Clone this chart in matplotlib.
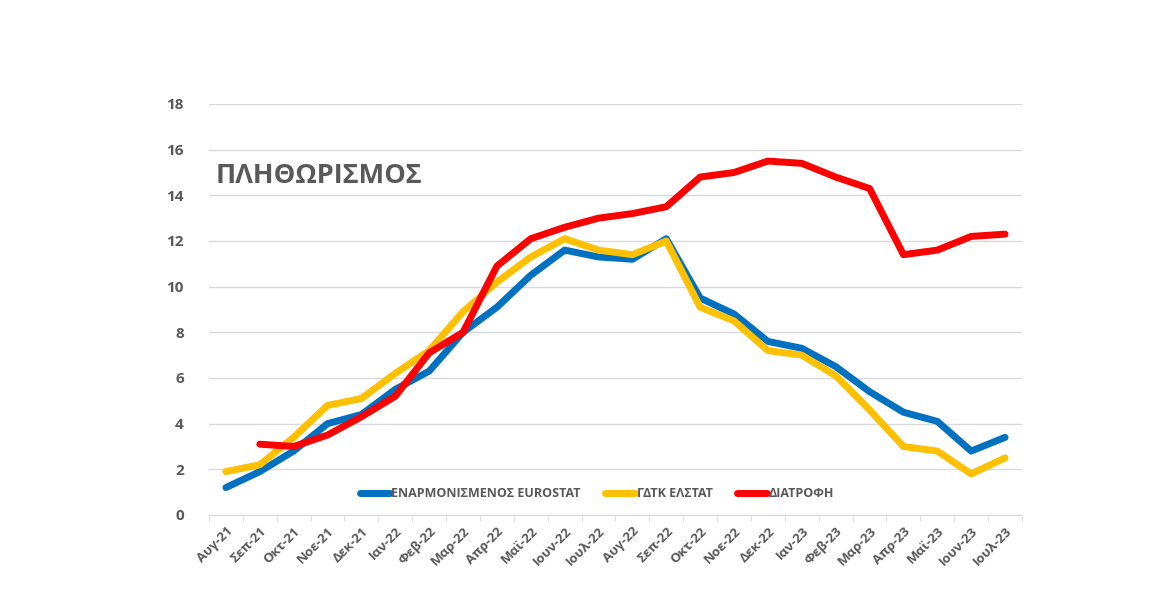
import numpy as np
import matplotlib
matplotlib.use('Agg')
import matplotlib.pyplot as plt
from matplotlib.ticker import FixedLocator

plt.rcParams['font.family'] = ['Open Sans', 'DejaVu Sans']

# Months (Aug-21 .. Jul-23)
months = ['Αυγ-21', 'Σεπ-21', 'Οκτ-21', 'Νοε-21', 'Δεκ-21', 'Ιαν-22', 'Φεβ-22', 'Μαρ-22',
          'Απρ-22', 'Μαϊ-22', 'Ιουν-22', 'Ιουλ-22', 'Αυγ-22', 'Σεπ-22', 'Οκτ-22', 'Νοε-22',
          'Δεκ-22', 'Ιαν-23', 'Φεβ-23', 'Μαρ-23', 'Απρ-23', 'Μαϊ-23', 'Ιουν-23', 'Ιουλ-23']

# Series values
hicp = [1.2, 1.9, 2.8, 4.0, 4.4, 5.5, 6.3, 8.0, 9.1, 10.5, 11.6, 11.3,
        11.2, 12.1, 9.5, 8.8, 7.6, 7.3, 6.5, 5.4, 4.5, 4.1, 2.8, 3.4]
cpi = [1.9, 2.2, 3.4, 4.8, 5.1, 6.2, 7.2, 8.9, 10.2, 11.3, 12.1, 11.6,
       11.4, 12.0, 9.1, 8.5, 7.2, 7.0, 6.1, 4.6, 3.0, 2.8, 1.8, 2.5]
food = [np.nan, 3.1, 3.0, 3.5, 4.3, 5.2, 7.1, 8.0, 10.9, 12.1, 12.6, 13.0,
        13.2, 13.5, 14.8, 15.0, 15.5, 15.4, 14.8, 14.3, 11.4, 11.6, 12.2, 12.3]

series_names = ['ΕΝΑΡΜΟΝΙΣΜΕΝΟΣ EUROSTAT', 'ΓΔΤΚ ΕΛΣΤΑΤ', 'ΔΙΑΤΡΟΦΗ']
colors = ['#0070C0', '#FFC000', '#FF0000']
text_color = '#595959'

fig = plt.figure(figsize=(11.7, 6.0), dpi=100)
ax = fig.add_axes([0.1786, 0.1417, 0.6949, 0.685])

x = np.arange(len(months))
for vals, name, c in zip([hicp, cpi, food], series_names, colors):
    ax.plot(x, vals, color=c, linewidth=5, label=name, solid_capstyle='round',
            solid_joinstyle='round')

ax.set_xlim(-0.5, len(months) - 0.5)
ax.set_ylim(0, 18)
ax.set_yticks(range(0, 19, 2))
ax.set_xticks(x)
ax.set_xticklabels(months, rotation=45, ha='right', rotation_mode='anchor',
                   fontsize=9.5, fontweight='bold', color=text_color)
ax.xaxis.set_minor_locator(FixedLocator(np.arange(-0.5, len(months), 1)))
ax.tick_params(axis='x', which='major', length=0, pad=7)
ax.tick_params(axis='x', which='minor', length=4, color='#D9D9D9')
ax.tick_params(axis='y', length=0, pad=18, labelsize=11, labelcolor=text_color)
for lbl in ax.get_yticklabels():
    lbl.set_fontweight('bold')

ax.grid(axis='y', color='#D9D9D9', linewidth=1)
ax.set_axisbelow(True)
for s in ['top', 'right', 'left']:
    ax.spines[s].set_visible(False)
ax.spines['bottom'].set_color('#D9D9D9')

ax.text(0.0077, 0.825, 'ΠΛΗΘΩΡΙΣΜΟΣ', transform=ax.transAxes, fontsize=19.5,
        fontweight='bold', color=text_color, va='center', ha='left')

leg = ax.legend(loc='center', bbox_to_anchor=(0.477, 0.052), ncol=3, frameon=False,
                handlelength=2.4, columnspacing=2.0, handletextpad=0.1,
                prop={'size': 9, 'weight': 'bold'})
for t in leg.get_texts():
    t.set_color(text_color)
for h in leg.get_lines():
    h.set_solid_capstyle('round')

fig.savefig('out.png', dpi=100, facecolor='white')
